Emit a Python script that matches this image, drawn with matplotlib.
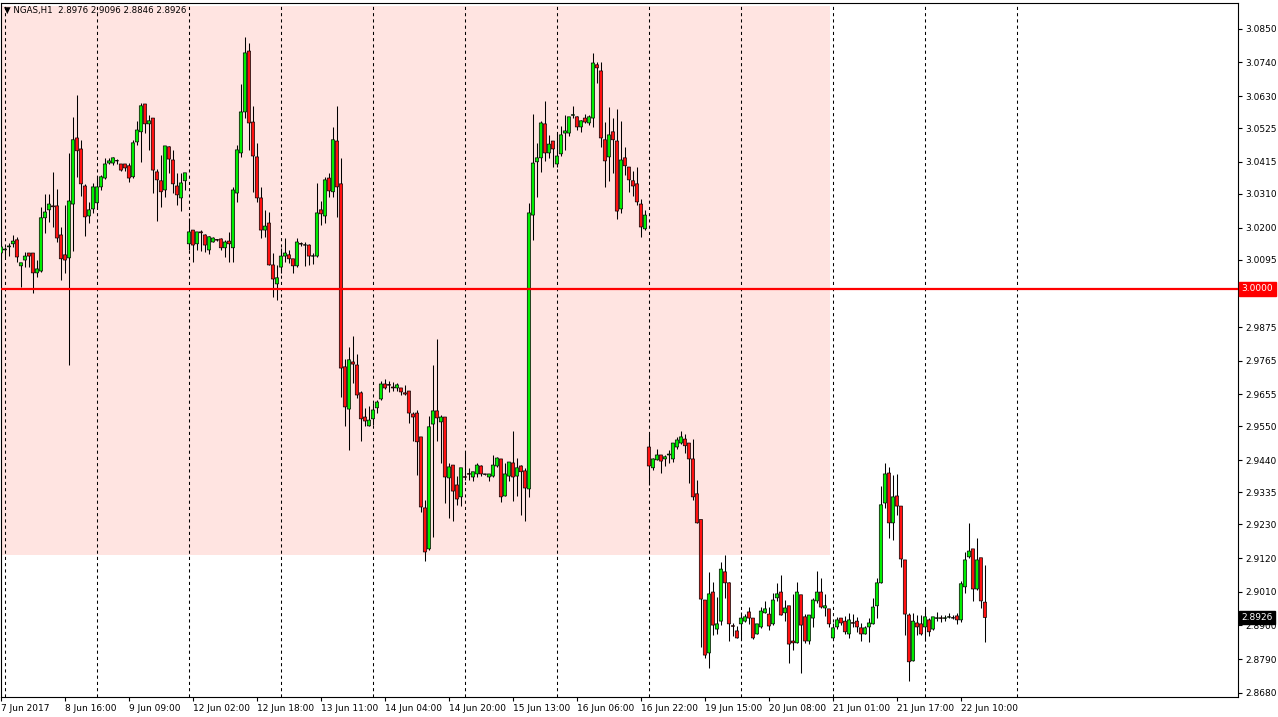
import numpy as np
import matplotlib
matplotlib.use("Agg")
import matplotlib.pyplot as plt
from matplotlib.patches import Rectangle
from matplotlib.transforms import blended_transform_factory

# NGAS H1 candles, 7 Jun 2017 23:00 -> 22 Jun 2017 16:00
opens = [
    3.0117, 3.0127, 3.0137, 3.0147, 3.0160, 3.0075, 3.0094, 3.0117, 3.0117, 3.0052,
    3.0058, 3.0232, 3.0258, 3.0271, 3.0271, 3.0176, 3.0111, 3.0101, 3.0277, 3.0493,
    3.0457, 3.0336, 3.0238, 3.0261, 3.0281, 3.0333, 3.0362, 3.0411, 3.0411, 3.0418,
    3.0408, 3.0408, 3.0402, 3.0366, 3.0480, 3.0513, 3.0604, 3.0539, 3.0558, 3.0382,
    3.0353, 3.0323, 3.0464, 3.0421, 3.0336, 3.0297, 3.0353, 3.0147, 3.0192, 3.0147,
    3.0186, 3.0176, 3.0127, 3.0153, 3.0161, 3.0163, 3.0134, 3.0156, 3.0134, 3.0313,
    3.0444, 3.0578, 3.0777, 3.0545, 3.0431, 3.0297, 3.0192, 3.0215, 3.0078, 3.0016,
    3.0071, 3.0107, 3.0111, 3.0098, 3.0075, 3.0148, 3.0143, 3.0143, 3.0107, 3.0107,
    3.0258, 3.0238, 3.0362, 3.0317, 3.0483, 3.0343, 2.9745, 2.9607, 2.9761, 2.9751,
    2.9660, 2.9581, 2.9552, 2.9575, 2.9611, 2.9640, 2.9689, 2.9687, 2.9679, 2.9676,
    2.9676, 2.9660, 2.9666, 2.9591, 2.9594, 2.9516, 2.9284, 2.9150, 2.9558, 2.9601,
    2.9565, 2.9581, 2.9382, 2.9424, 2.9359, 2.9320, 2.9386, 2.9396, 2.9385, 2.9395,
    2.9421, 2.9395, 2.9385, 2.9388, 2.9421, 2.9444, 2.9323, 2.9388, 2.9431, 2.9388,
    2.9421, 2.9405, 2.9346, 3.0241, 3.0415, 3.0428, 3.0539, 3.0444, 3.0483, 3.0408,
    3.0441, 3.0509, 3.0509, 3.0567, 3.0562, 3.0529, 3.0558, 3.0542, 3.0558, 3.0732,
    3.0712, 3.0487, 3.0431, 3.0513, 3.0483, 3.0261, 3.0428, 3.0398, 3.0353, 3.0343,
    3.0277, 3.0196, 2.9483, 2.9415, 2.9441, 2.9457, 2.9444, 2.9457, 2.9444, 2.9483,
    2.9496, 2.9509, 2.9496, 2.9444, 2.9330, 2.9246, 2.8983, 2.8810, 2.9009, 2.8888,
    2.8914, 2.9075, 2.9039, 2.8899, 2.8882, 2.8905, 2.8914, 2.8944, 2.8924, 2.8872,
    2.8895, 2.8941, 2.8937, 2.8905, 2.8990, 2.9009, 2.8941, 2.8964, 2.8849, 2.8843,
    2.9000, 2.8928, 2.8849, 2.8924, 2.8980, 2.9009, 2.8957, 2.8954, 2.8859, 2.8895,
    2.8924, 2.8914, 2.8872, 2.8909, 2.8914, 2.8892, 2.8872, 2.8895, 2.8905, 2.8964,
    2.9039, 2.9300, 2.9398, 2.9235, 2.9323, 2.9290, 2.9114, 2.8934, 2.8784, 2.8908,
    2.8905, 2.8895, 2.8918, 2.8888, 2.8923, 2.8925, 2.8923, 2.8927, 2.8925, 2.8931,
    2.8918, 2.9026, 2.9124, 2.9150, 2.9019, 2.9121, 2.8976,
]
highs = [
    3.0150, 3.0137, 3.0150, 3.0176, 3.0170, 3.0085, 3.0121, 3.0117, 3.0117, 3.0094,
    3.0268, 3.0310, 3.0310, 3.0382, 3.0326, 3.0202, 3.0274, 3.0444, 3.0562, 3.0634,
    3.0487, 3.0343, 3.0284, 3.0346, 3.0366, 3.0372, 3.0428, 3.0428, 3.0431, 3.0424,
    3.0408, 3.0408, 3.0411, 3.0487, 3.0549, 3.0607, 3.0604, 3.0568, 3.0558, 3.0392,
    3.0438, 3.0467, 3.0467, 3.0454, 3.0379, 3.0379, 3.0379, 3.0232, 3.0192, 3.0186,
    3.0192, 3.0179, 3.0173, 3.0170, 3.0163, 3.0166, 3.0160, 3.0186, 3.0333, 3.0470,
    3.0670, 3.0823, 3.0804, 3.0598, 3.0477, 3.0333, 3.0258, 3.0251, 3.0117, 3.0078,
    3.0134, 3.0166, 3.0127, 3.0098, 3.0166, 3.0153, 3.0153, 3.0147, 3.0117, 3.0346,
    3.0287, 3.0366, 3.0379, 3.0529, 3.0598, 3.0428, 2.9771, 2.9810, 2.9846, 2.9787,
    2.9666, 2.9611, 2.9617, 2.9627, 2.9637, 2.9699, 2.9705, 2.9699, 2.9696, 2.9692,
    2.9676, 2.9686, 2.9666, 2.9598, 2.9604, 2.9516, 2.9310, 2.9585, 2.9751, 2.9836,
    2.9588, 2.9581, 2.9431, 2.9424, 2.9388, 2.9415, 2.9467, 2.9415, 2.9402, 2.9431,
    2.9424, 2.9396, 2.9395, 2.9457, 2.9451, 2.9444, 2.9431, 2.9434, 2.9536, 2.9447,
    2.9424, 2.9415, 3.0281, 3.0571, 3.0477, 3.0549, 3.0614, 3.0503, 3.0483, 3.0509,
    3.0532, 3.0568, 3.0562, 3.0598, 3.0565, 3.0552, 3.0571, 3.0568, 3.0771, 3.0741,
    3.0741, 3.0545, 3.0594, 3.0558, 3.0588, 3.0549, 3.0464, 3.0398, 3.0385, 3.0398,
    3.0294, 3.0258, 2.9526, 2.9447, 2.9477, 2.9457, 2.9457, 2.9473, 2.9496, 2.9516,
    2.9536, 2.9526, 2.9496, 2.9509, 2.9375, 2.9246, 2.8983, 2.9075, 2.9042, 2.8993,
    2.9107, 2.9130, 2.9042, 2.8908, 2.8898, 2.8944, 2.8937, 2.8960, 2.8924, 2.8905,
    2.8960, 2.8980, 2.8960, 2.9006, 2.9039, 2.9065, 2.8983, 2.8964, 2.9003, 2.9042,
    2.9000, 2.8937, 2.8934, 2.8990, 2.9078, 2.9055, 2.9003, 2.8954, 2.8908, 2.8928,
    2.8924, 2.8931, 2.8941, 2.8937, 2.8928, 2.8908, 2.8898, 2.8924, 2.8990, 2.9055,
    2.9356, 2.9431, 2.9418, 2.9392, 2.9395, 2.9290, 2.9114, 2.8941, 2.8941, 2.8934,
    2.8934, 2.8957, 2.8924, 2.8928, 2.8944, 2.8934, 2.8934, 2.8941, 2.8934, 2.8941,
    2.9045, 2.9140, 2.9235, 2.9150, 2.9186, 2.9121, 2.9096,
]
lows = [
    3.0104, 3.0104, 3.0107, 3.0137, 3.0088, 3.0006, 3.0071, 3.0071, 2.9987, 3.0039,
    3.0055, 3.0183, 3.0219, 3.0202, 3.0153, 3.0029, 3.0052, 2.9751, 3.0124, 3.0366,
    3.0304, 3.0173, 3.0215, 3.0248, 3.0261, 3.0323, 3.0359, 3.0408, 3.0405, 3.0408,
    3.0385, 3.0385, 3.0349, 3.0362, 3.0470, 3.0415, 3.0509, 3.0454, 3.0313, 3.0222,
    3.0268, 3.0300, 3.0379, 3.0313, 3.0274, 3.0254, 3.0323, 3.0127, 3.0088, 3.0127,
    3.0124, 3.0121, 3.0114, 3.0153, 3.0156, 3.0127, 3.0104, 3.0088, 3.0088, 3.0284,
    3.0431, 3.0558, 3.0454, 3.0317, 3.0284, 3.0166, 3.0170, 3.0078, 2.9973, 2.9964,
    3.0052, 3.0088, 3.0085, 3.0052, 3.0071, 3.0140, 3.0075, 3.0078, 3.0081, 3.0104,
    3.0209, 3.0215, 3.0300, 3.0300, 3.0235, 2.9647, 2.9552, 2.9473, 2.9692, 2.9643,
    2.9503, 2.9552, 2.9552, 2.9555, 2.9594, 2.9637, 2.9673, 2.9663, 2.9666, 2.9666,
    2.9653, 2.9653, 2.9562, 2.9503, 2.9392, 2.9271, 2.9111, 2.9147, 2.9189, 2.9503,
    2.9431, 2.9300, 2.9251, 2.9241, 2.9294, 2.9290, 2.9375, 2.9375, 2.9372, 2.9385,
    2.9388, 2.9392, 2.9372, 2.9385, 2.9418, 2.9304, 2.9323, 2.9372, 2.9307, 2.9323,
    2.9261, 2.9241, 2.9320, 3.0160, 3.0300, 3.0382, 3.0418, 3.0428, 3.0398, 3.0398,
    3.0434, 3.0454, 3.0500, 3.0558, 3.0519, 3.0513, 3.0542, 3.0536, 3.0529, 3.0673,
    3.0464, 3.0333, 3.0353, 3.0379, 3.0228, 3.0248, 3.0372, 3.0317, 3.0304, 3.0274,
    3.0170, 3.0192, 2.9359, 2.9408, 2.9441, 2.9398, 2.9421, 2.9431, 2.9434, 2.9477,
    2.9493, 2.9464, 2.9366, 2.9310, 2.9235, 2.8830, 2.8794, 2.8761, 2.8869, 2.8872,
    2.8901, 2.8990, 2.8849, 2.8866, 2.8859, 2.8853, 2.8911, 2.8905, 2.8856, 2.8872,
    2.8892, 2.8941, 2.8885, 2.8901, 2.8980, 2.8934, 2.8914, 2.8777, 2.8820, 2.8843,
    2.8745, 2.8843, 2.8839, 2.8895, 2.8973, 2.8957, 2.8931, 2.8895, 2.8853, 2.8888,
    2.8901, 2.8872, 2.8859, 2.8895, 2.8879, 2.8849, 2.8872, 2.8846, 2.8905, 2.8924,
    2.9039, 2.9284, 2.9186, 2.9179, 2.9261, 2.9091, 2.8869, 2.8719, 2.8784, 2.8869,
    2.8869, 2.8849, 2.8866, 2.8885, 2.8914, 2.8911, 2.8914, 2.8924, 2.8921, 2.8905,
    2.8911, 2.9006, 2.9121, 2.8980, 2.9016, 2.8957, 2.8846,
]
closes = [
    3.0137, 3.0130, 3.0140, 3.0156, 3.0104, 3.0085, 3.0107, 3.0107, 3.0052, 3.0065,
    3.0232, 3.0251, 3.0277, 3.0268, 3.0166, 3.0098, 3.0094, 3.0287, 3.0487, 3.0451,
    3.0343, 3.0235, 3.0258, 3.0333, 3.0333, 3.0366, 3.0408, 3.0418, 3.0428, 3.0418,
    3.0388, 3.0395, 3.0362, 3.0477, 3.0519, 3.0598, 3.0539, 3.0549, 3.0388, 3.0356,
    3.0317, 3.0467, 3.0424, 3.0343, 3.0307, 3.0346, 3.0379, 3.0186, 3.0143, 3.0186,
    3.0183, 3.0143, 3.0170, 3.0166, 3.0159, 3.0134, 3.0153, 3.0147, 3.0323, 3.0454,
    3.0578, 3.0771, 3.0542, 3.0434, 3.0297, 3.0192, 3.0205, 3.0078, 3.0032, 3.0036,
    3.0107, 3.0117, 3.0098, 3.0075, 3.0153, 3.0146, 3.0143, 3.0107, 3.0107, 3.0248,
    3.0245, 3.0356, 3.0320, 3.0487, 3.0333, 2.9741, 2.9614, 2.9768, 2.9754, 2.9653,
    2.9575, 2.9568, 2.9571, 2.9604, 2.9630, 2.9689, 2.9676, 2.9685, 2.9676, 2.9686,
    2.9663, 2.9656, 2.9594, 2.9581, 2.9500, 2.9287, 2.9140, 2.9549, 2.9601, 2.9578,
    2.9581, 2.9385, 2.9418, 2.9339, 2.9313, 2.9415, 2.9384, 2.9394, 2.9402, 2.9424,
    2.9395, 2.9394, 2.9395, 2.9424, 2.9447, 2.9320, 2.9395, 2.9434, 2.9385, 2.9415,
    2.9402, 2.9349, 3.0248, 3.0411, 3.0428, 3.0542, 3.0444, 3.0473, 3.0457, 3.0434,
    3.0503, 3.0516, 3.0562, 3.0569, 3.0529, 3.0549, 3.0545, 3.0562, 3.0738, 3.0722,
    3.0493, 3.0418, 3.0503, 3.0487, 3.0254, 3.0421, 3.0402, 3.0356, 3.0336, 3.0284,
    3.0202, 3.0241, 2.9421, 2.9444, 2.9457, 2.9437, 2.9451, 2.9460, 2.9496, 2.9506,
    2.9516, 2.9487, 2.9444, 2.9320, 2.9235, 2.8986, 2.8803, 2.9003, 2.8901, 2.8905,
    2.9084, 2.9039, 2.8905, 2.8897, 2.8859, 2.8924, 2.8928, 2.8924, 2.8859, 2.8905,
    2.8947, 2.8954, 2.8898, 2.8983, 2.9003, 2.8934, 2.8957, 2.8839, 2.8843, 2.9009,
    2.8901, 2.8849, 2.8934, 2.8983, 2.9009, 2.8960, 2.8964, 2.8905, 2.8892, 2.8918,
    2.8908, 2.8879, 2.8918, 2.8907, 2.8895, 2.8872, 2.8892, 2.8908, 2.8960, 2.9039,
    2.9294, 2.9395, 2.9235, 2.9320, 2.9290, 2.9117, 2.8937, 2.8781, 2.8914, 2.8895,
    2.8872, 2.8928, 2.8879, 2.8928, 2.8925, 2.8923, 2.8925, 2.8928, 2.8924, 2.8918,
    2.9036, 2.9114, 2.9143, 2.9019, 2.9114, 2.8980, 2.8926,
]

# bar index of each day start (period separators)
day_starts = [1, 24, 47, 70, 93, 116, 139, 162, 185, 208, 231, 254]

time_labels = ["7 Jun 2017", "8 Jun 16:00", "9 Jun 09:00", "12 Jun 02:00",
               "12 Jun 18:00", "13 Jun 11:00", "14 Jun 04:00", "14 Jun 20:00",
               "15 Jun 13:00", "16 Jun 06:00", "16 Jun 22:00", "19 Jun 15:00",
               "20 Jun 08:00", "21 Jun 01:00", "21 Jun 17:00", "22 Jun 10:00"]
time_label_bars = [0, 16, 32, 48, 64, 80, 96, 112, 128, 144, 160, 176, 192, 208, 224, 240]

price_ticks = [2.8680, 2.8790, 2.8900, 2.9010, 2.9120, 2.9230, 2.9335, 2.9440,
               2.9550, 2.9655, 2.9765, 2.9875, 2.9985, 3.0095, 3.0200, 3.0310,
               3.0415, 3.0525, 3.0630, 3.0740, 3.0850]

level = 3.0000
zone_top, zone_bottom = 3.0925, 2.9130
zone_last_bar = 207.3

o = np.array(opens)
h = np.array(highs)
l = np.array(lows)
c = np.array(closes)
x = np.arange(len(o))

W, H = 1278, 717
fig = plt.figure(figsize=(W / 100, H / 100), dpi=100)
ax = fig.add_axes([0.5 / W, 20 / H, 1237.5 / W, 694 / H])

ax.add_patch(Rectangle((-1, zone_bottom), zone_last_bar + 1, zone_top - zone_bottom,
                       facecolor="#ffe4e1", edgecolor="none", zorder=0))

for d in day_starts:
    ax.axvline(d, color="black", lw=0.75, ls=(0, (3, 3)), zorder=1)

ax.axhline(level, color="#ff0000", lw=1.6, zorder=4)

# candles
ax.vlines(x, l, h, color="black", lw=0.75, zorder=2)
up = c >= o
body_lo = np.minimum(o, c)
body_h = np.maximum(np.abs(c - o), 0.00005)
ax.bar(x[up], body_h[up], bottom=body_lo[up], width=0.8, color="#00ee00",
       edgecolor="black", linewidth=0.5, zorder=3, snap=False)
ax.bar(x[~up], body_h[~up], bottom=body_lo[~up], width=0.8, color="#ff1010",
       edgecolor="black", linewidth=0.5, zorder=3, snap=False)

ax.set_xlim(-0.1, -0.1 + 1237.5 / 4)
ax.set_ylim(2.8666, 3.0934)

ax.yaxis.tick_right()
ax.set_yticks(price_ticks)
ax.set_yticklabels([f"{p:.4f}" for p in price_ticks])
ax.tick_params(axis="y", labelsize=6.5, length=3, width=0.8, pad=2)

ax.set_xticks(time_label_bars)
ax.set_xticklabels(time_labels, ha="left")
ax.tick_params(axis="x", labelsize=6.5, length=3, width=0.8, pad=2)

for s in ax.spines.values():
    s.set_linewidth(0.8)

trans = blended_transform_factory(ax.transAxes, ax.transData)
ax.text(1.003, level, f"{level:.4f}", transform=trans, ha="left", va="center",
        fontsize=6.5, color="white", zorder=10, clip_on=False,
        bbox=dict(boxstyle="square,pad=0.25", facecolor="#ff0000", edgecolor="#ff0000"))
ax.text(1.003, closes[-1], f"{closes[-1]:.4f}", transform=trans, ha="left", va="center",
        fontsize=6.5, color="white", zorder=10, clip_on=False,
        bbox=dict(boxstyle="square,pad=0.25", facecolor="black", edgecolor="black"))

fig.text(4 / W, 1 - 10 / H,
         f"\u25bc NGAS,H1  {opens[-1]:.4f} {highs[-1]:.4f} {lows[-1]:.4f} {closes[-1]:.4f}",
         fontsize=6.2, va="center", ha="left")

fig.savefig("out.png", dpi=100)
